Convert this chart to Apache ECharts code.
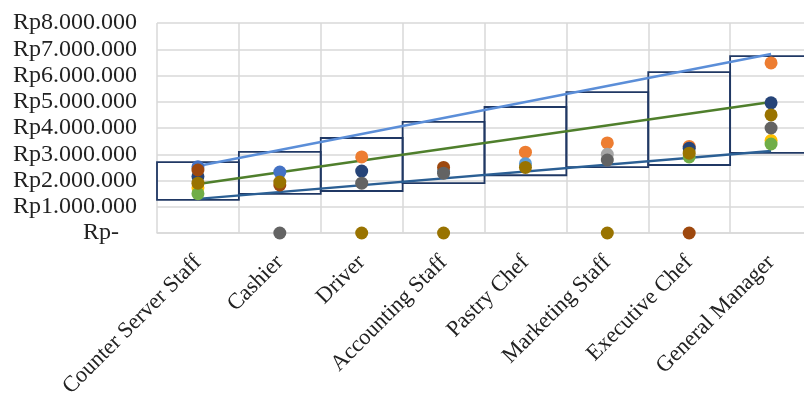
<!DOCTYPE html>
<html><head><meta charset="utf-8">
<script src="https://cdn.jsdelivr.net/npm/echarts@6/dist/echarts.min.js"></script>
<style>html,body{margin:0;padding:0;background:#fff;overflow:hidden}#c{width:812px;height:396px}</style>
</head><body><div id="c"></div>
<script>
const categories = ['Counter Server Staff','Cashier','Driver','Accounting Staff','Pastry Chef','Marketing Staff','Executive Chef','General Manager'];
const yTicks = [0,1000000,2000000,3000000,4000000,5000000,6000000,7000000,8000000];
// salary range boxes
const rangeLow  = [1260000,1490000,1600000,1900000,2200000,2510000,2590000,3050000];
const rangeHigh = [2700000,3090000,3620000,4230000,4800000,5370000,6130000,6740000];
// trend lines (endpoints only)
const lineMax = [2550000,null,null,null,null,null,null,6820000];
const lineMid = [1870000,null,null,null,null,null,null,4990000];
const lineMin = [1300000,null,null,null,null,null,null,3120000];
// employee salaries per category
const empBlue       = [2520000,2320000,null,null,null,null,null,null];
const empOrange     = [null,null,2900000,null,3080000,3430000,3300000,6480000];
const empGray       = [null,null,null,null,null,3000000,null,null];
const empGold       = [1720000,null,null,null,null,null,null,3520000];
const empLightBlue  = [null,null,null,2350000,2640000,null,null,null];
const empGreen      = [1500000,null,null,null,null,null,2900000,3390000];
const empDarkBlue   = [2150000,null,2360000,null,null,null,3230000,4960000];
const empDarkOrange = [2400000,1830000,null,2500000,null,null,0,null];
const empDarkGray   = [null,0,1900000,2280000,null,2780000,null,4000000];
const empDarkGold   = [1900000,1940000,0,0,2500000,0,3040000,4500000];

const font = "'Liberation Serif','Times New Roman',serif";
function fmt(v){
  if (v === 0) return 'Rp-   ';
  return 'Rp' + String(Math.round(v)).replace(/\B(?=(\d{3})+(?!\d))/g,'.');
}
const empSeries = [
  ['#4472C4',empBlue],['#ED7D31',empOrange],['#A5A5A5',empGray],['#FFC000',empGold],
  ['#5B9BD5',empLightBlue],['#70AD47',empGreen],['#264478',empDarkBlue],['#9E480E',empDarkOrange],
  ['#636363',empDarkGray],['#997300',empDarkGold]
].map(([c,d])=>({type:'scatter',data:d,symbolSize:13,itemStyle:{color:c,opacity:1},z:5,clip:false}));

const chart = echarts.init(document.getElementById('c'),null,{renderer:'canvas'});
chart.setOption({
  animation:false,
  grid:{left:157,right:0,top:23,bottom:163,outerBoundsMode:'none',containLabel:false},
  xAxis:{type:'category',data:categories,boundaryGap:true,
    axisLine:{show:true,lineStyle:{color:'#d9d9d9',width:1.5}},
    axisTick:{show:false},
    splitLine:{show:true,lineStyle:{color:'#d9d9d9',width:1.5}},
    axisLabel:{rotate:45,margin:26,fontFamily:font,fontSize:22.5,color:'#222',interval:0}},
  yAxis:{type:'value',min:yTicks[0],max:yTicks[yTicks.length-1],interval:1000000,
    axisLine:{show:false},axisTick:{show:false},
    splitLine:{show:true,lineStyle:{color:'#d9d9d9',width:1.5}},
    axisLabel:{formatter:fmt,fontFamily:font,fontSize:24,color:'#222',margin:20}},
  series:[
    {type:'custom',z:2,clip:false,
      data:categories.map((c,i)=>[i,rangeLow[i],rangeHigh[i]]),
      renderItem:function(params,api){
        const i=api.value(0);
        const lo=api.coord([i,api.value(1)]);
        const hi=api.coord([i,api.value(2)]);
        const w=api.size([1,0])[0];
        return {type:'rect',shape:{x:lo[0]-w/2,y:hi[1],width:w,height:lo[1]-hi[1]},
          style:{fill:null,stroke:'#203864',lineWidth:1.8}};
      }},
    {type:'line',data:lineMax,connectNulls:true,symbol:'none',z:3,lineStyle:{color:'#5B8ED8',width:2.5}},
    {type:'line',data:lineMid,connectNulls:true,symbol:'none',z:3,lineStyle:{color:'#4F7F2C',width:2.5}},
    {type:'line',data:lineMin,connectNulls:true,symbol:'none',z:3,lineStyle:{color:'#2B5F94',width:2.5}},
    ...empSeries
  ]
});
</script></body></html>
